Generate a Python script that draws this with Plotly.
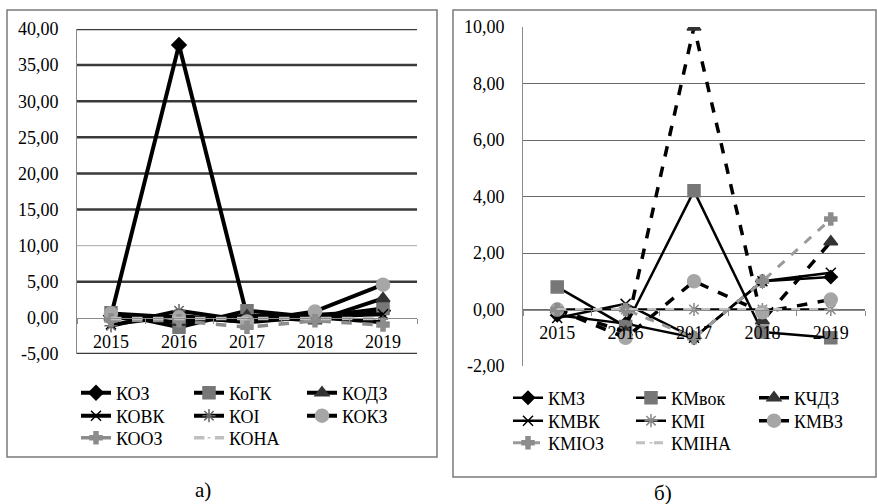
import plotly.graph_objects as go

W, H = 877, 504

years = ['2015', '2016', '2017', '2018', '2019']

# Panel a) series
a_names = ['КОЗ', 'КоГК', 'КОДЗ', 'КОВК', 'КОІ', 'КОКЗ', 'КООЗ', 'КОНА']
koz = [0.3, 37.8, 0.3, 0.4, 1.0]
kogk = [0.7, -1.3, 1.0, 0.1, 1.3]
kodz = [0.1, -0.6, 0.3, -0.4, 2.7]
kovk = [-0.9, 0.3, -0.6, 0.2, 0.5]
koi = [-1.1, 1.0, -0.4, 0.1, -0.6]
kokz = [0.6, 0.1, -0.5, 0.9, 4.6]
kooz = [-0.3, -0.4, -1.3, -0.4, -1.0]
kona = [-0.1, -0.1, -0.1, -0.1, -0.1]
a_values = [koz, kogk, kodz, kovk, koi, kokz, kooz, kona]
a_ticks = [-5, 0, 5, 10, 15, 20, 25, 30, 35, 40]
a_ticktext = ['-5,00', '0,00', '5,00', '10,00', '15,00', '20,00', '25,00', '30,00', '35,00', '40,00']
a_dark_grid = [-5, 5, 15, 20, 25, 30, 35, 40]
a_light_grid = [10]

# Panel б) series
b_names = ['КМЗ', 'КМвок', 'КЧДЗ', 'КМВК', 'КМІ', 'КМВЗ', 'КМІОЗ', 'КМІНА']
kmz = [-0.2, -0.5, -1.0, 1.0, 1.15]
kmvok = [0.8, -0.6, 4.2, -0.8, -1.0]
kchdz = [0.0, -0.8, 10.0, -0.4, 2.4]
kmvk = [-0.3, 0.2, -1.0, 1.0, 1.3]
kmi = [0.0, 0.0, 0.0, 0.0, 0.0]
kmvz = [0.0, -1.0, 1.0, -0.1, 0.35]
kmioz = [0.0, 0.0, -1.0, 1.0, 3.2]
kmina = [0.0, 0.0, 0.0, 0.0, 0.0]
b_values = [kmz, kmvok, kchdz, kmvk, kmi, kmvz, kmioz, kmina]
b_ticks = [-2, 0, 2, 4, 6, 8, 10]
b_ticktext = ['-2,00', '0,00', '2,00', '4,00', '6,00', '8,00', '10,00']

FONT = 'Liberation Serif, Times New Roman, serif'

# styles: (line color, dash, width, marker symbol, marker color, marker size)
a_styles = [
    ('black', 'solid', 4, 'diamond', 'black', 11),
    ('black', 'solid', 4, 'square', '#777777', 12),
    ('black', 'solid', 4, 'triangle-up', '#333333', 12),
    ('black', 'solid', 4, 'x-thin-open', 'black', 10),
    ('black', 'solid', 4, 'asterisk-open', '#666666', 11),
    ('black', 'solid', 4, 'circle', '#a6a6a6', 13),
    ('#8c8c8c', 'dash', 3.5, 'cross', '#8c8c8c', 10),
    ('#c0c0c0', 'dash', 3.5, 'line-ew-open', '#c0c0c0', 1),
]
b_styles = [
    ('black', 'solid', 2.5, 'diamond', 'black', 10),
    ('black', 'solid', 2.5, 'square', '#777777', 12),
    ('black', 'dash', 3.5, 'triangle-up', '#333333', 12),
    ('black', 'solid', 2.5, 'x-thin-open', 'black', 10),
    ('black', 'solid', 2.5, 'asterisk-open', '#888888', 11),
    ('black', 'dash', 3.5, 'circle', '#a6a6a6', 13),
    ('#9a9a9a', 'dash', 3, 'cross', '#8c8c8c', 10),
    ('#c0c0c0', 'dash', 3, 'line-ew-open', '#c0c0c0', 1),
]

fig = go.Figure()

rows_a = ['legend', 'legend', 'legend', 'legend2', 'legend2', 'legend2', 'legend3', 'legend3']
rows_b = ['legend4', 'legend4', 'legend4', 'legend5', 'legend5', 'legend5', 'legend6', 'legend6']

for name, vals, st, lg in zip(a_names, a_values, a_styles, rows_a):
    lc, dash, lw, sym, mc, ms = st
    fig.add_trace(go.Scatter(
        x=years, y=vals, name=name, mode='lines+markers',
        line=dict(color=lc, dash=dash, width=lw),
        marker=dict(symbol=sym, color=mc, size=ms, line=dict(color=mc, width=1.5)),
        xaxis='x', yaxis='y', legend=lg))

for name, vals, st, lg in zip(b_names, b_values, b_styles, rows_b):
    lc, dash, lw, sym, mc, ms = st
    fig.add_trace(go.Scatter(
        x=years, y=vals, name=name, mode='lines+markers',
        line=dict(color=lc, dash=dash, width=lw),
        marker=dict(symbol=sym, color=mc, size=ms, line=dict(color=mc, width=1.5)),
        xaxis='x2', yaxis='y2', legend=lg))

# domains in paper coords
ax_a = [77 / W, 417 / W]
ay_a = [1 - 354 / H, 1 - 29 / H]
ax_b = [523 / W, 865 / W]
ay_b = [1 - 366 / H, 1 - 27 / H]
ra = [-5, 40]
rb = [-2, 10]
pos_a = ay_a[0] + (0 - ra[0]) / (ra[1] - ra[0]) * (ay_a[1] - ay_a[0])
pos_b = ay_b[0] + (0 - rb[0]) / (rb[1] - rb[0]) * (ay_b[1] - ay_b[0])

tickfont = dict(family=FONT, size=18, color='black')

fig.update_layout(
    width=W, height=H, margin=dict(l=0, r=0, t=0, b=0, autoexpand=False),
    paper_bgcolor='white', plot_bgcolor='rgba(0,0,0,0)',
    font=dict(family=FONT, size=16, color='black'),
    xaxis=dict(domain=ax_a, type='category', range=[-0.5, 4.5], anchor='free', position=pos_a,
               showline=True, linecolor='#8a8a8a', linewidth=1, ticks='outside', tickson='boundaries',
               ticklen=5, tickcolor='#8a8a8a', showgrid=False, tickfont=tickfont, ticklabelstandoff=8,
               zeroline=False),
    yaxis=dict(domain=ay_a, range=ra, tickvals=a_ticks, ticktext=a_ticktext, showgrid=False,
               showline=True, linecolor='#8a8a8a', linewidth=1,
               zeroline=False, ticks='', tickfont=tickfont, ticklabelstandoff=14, anchor='x'),
    xaxis2=dict(domain=ax_b, type='category', range=[-0.5, 4.5], anchor='free', position=pos_b,
                showline=True, linecolor='#8a8a8a', linewidth=1, ticks='outside', tickson='boundaries',
                ticklen=5, tickcolor='#8a8a8a', showgrid=False, tickfont=tickfont, ticklabelstandoff=7,
                zeroline=False),
    yaxis2=dict(domain=ay_b, range=rb, tickvals=b_ticks, ticktext=b_ticktext, showgrid=True,
                gridcolor='#6a6a6a', gridwidth=1, showline=True, linecolor='#8a8a8a', linewidth=1,
                zeroline=False, ticks='', tickfont=tickfont, ticklabelstandoff=14, anchor='x2'),
    showlegend=True,
)

# left panel gridlines (dark and thick, except the lighter 10,00 line)
for v in a_dark_grid:
    fig.add_shape(type='line', xref='x domain', yref='y', x0=0, x1=1, y0=v, y1=v,
                  line=dict(color='#3a3a3a', width=2.5), layer='below')
for v in a_light_grid:
    fig.add_shape(type='line', xref='x domain', yref='y', x0=0, x1=1, y0=v, y1=v,
                  line=dict(color='#a8a8a8', width=1), layer='below')

legfont = dict(family=FONT, size=18, color='black')
def leg(x_px, y_px, ew):
    return dict(orientation='h', x=x_px / W, y=1 - y_px / H, xanchor='left', yanchor='middle',
                entrywidth=ew, entrywidthmode='pixels', font=legfont, bgcolor='rgba(0,0,0,0)',
                borderwidth=0, tracegroupgap=0)

fig.update_layout(
    legend=leg(76, 393, 68),
    legend2=leg(76, 416, 68),
    legend3=leg(76, 438, 68),
    legend4=leg(508, 398, 78),
    legend5=leg(508, 421, 78),
    legend6=leg(508, 443, 78),
)

# panel borders
fig.add_shape(type='rect', xref='paper', yref='paper', x0=7 / W, x1=437 / W, y0=1 - 457 / H, y1=1 - 10 / H,
              line=dict(color='#7a7a7a', width=1.5), fillcolor='rgba(0,0,0,0)', layer='below')
fig.add_shape(type='rect', xref='paper', yref='paper', x0=453 / W, x1=876 / W, y0=1 - 477 / H, y1=1 - 10 / H,
              line=dict(color='#7a7a7a', width=1.5), fillcolor='rgba(0,0,0,0)', layer='below')

fig.add_annotation(text='а)', x=203 / W, y=1 - 490 / H, xref='paper', yref='paper', showarrow=False,
                   xanchor='center', yanchor='middle', font=dict(family=FONT, size=21, color='black'))
fig.add_annotation(text='б)', x=663 / W, y=1 - 493 / H, xref='paper', yref='paper', showarrow=False,
                   xanchor='center', yanchor='middle', font=dict(family=FONT, size=21, color='black'))

fig.write_html('out.html')
